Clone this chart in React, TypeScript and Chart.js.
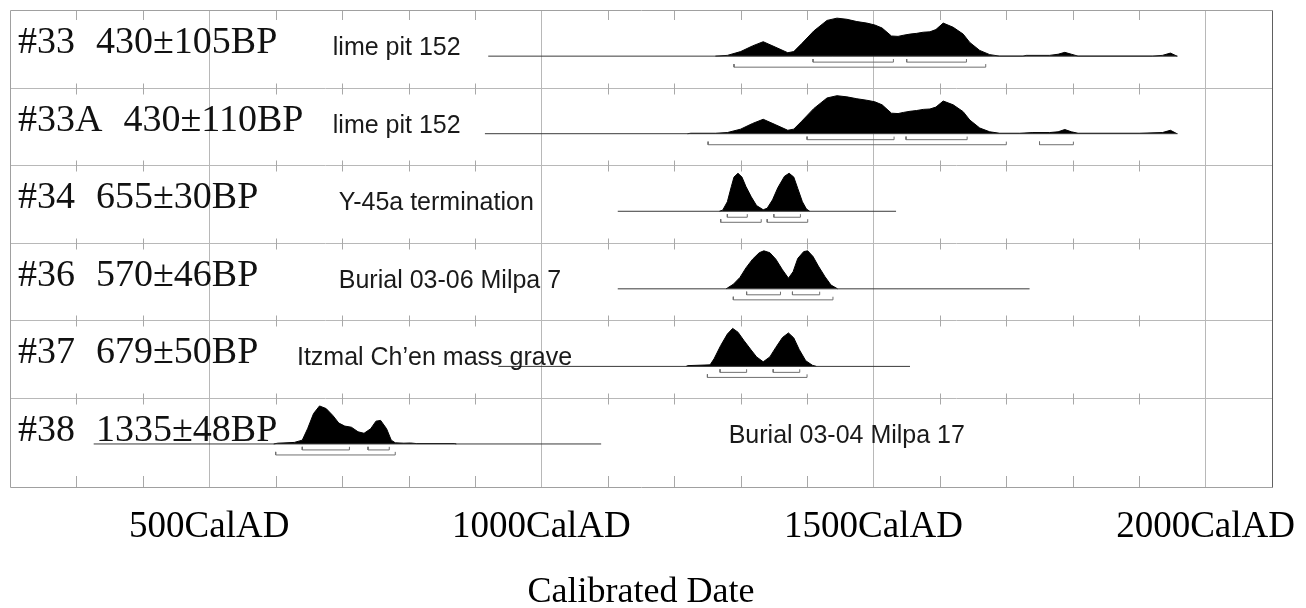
import React, { useEffect, useRef } from 'react';
import { Chart, registerables } from 'chart.js';

Chart.register(...registerables);

// ---------- data ----------
const sampleIds = ['#33', '#33A', '#34', '#36', '#37', '#38'];
const radiocarbonAges = ['430±105BP', '430±110BP', '655±30BP', '570±46BP', '679±50BP', '1335±48BP'];
const siteNames = [
  'lime pit 152',
  'lime pit 152',
  'Y-45a termination',
  'Burial 03-06 Milpa 7',
  'Itzmal Ch’en mass grave',
  'Burial 03-04 Milpa 17',
];

// extent of each row's calibration line (cal AD)
const rangeStart = [920, 915, 1115, 1115, 935, 326];
const rangeEnd = [1958, 1958, 1534, 1735, 1555, 1090];

// relative probability (year, density)
const dens33: [number, number][] = [
  [1262, 0], [1280, 0.02], [1300, 0.12], [1318, 0.27], [1334, 0.38], [1352, 0.24], [1371, 0.09],
  [1380, 0.12], [1392, 0.33], [1410, 0.66], [1430, 0.94], [1445, 1.0], [1460, 0.97], [1475, 0.91],
  [1490, 0.87], [1502, 0.82], [1513, 0.74], [1527, 0.53], [1537, 0.52], [1545, 0.55], [1555, 0.58],
  [1565, 0.6], [1575, 0.63], [1585, 0.64], [1594, 0.7], [1605, 0.87], [1620, 0.76], [1635, 0.58],
  [1645, 0.36], [1660, 0.15], [1675, 0.04], [1690, 0], [1725, 0], [1730, 0.02], [1765, 0.02],
  [1778, 0.05], [1788, 0.1], [1798, 0.05], [1808, 0], [1920, 0], [1935, 0.02], [1947, 0.08], [1957, 0],
];
const dens33A: [number, number][] = [
  [1220, 0], [1225, 0.012], [1262, 0.012], [1280, 0.03], [1300, 0.12], [1318, 0.27], [1334, 0.38],
  [1352, 0.24], [1371, 0.09], [1380, 0.12], [1392, 0.33], [1410, 0.66], [1430, 0.94], [1445, 1.0],
  [1460, 0.97], [1475, 0.92], [1490, 0.88], [1502, 0.84], [1513, 0.76], [1527, 0.54], [1537, 0.53],
  [1545, 0.56], [1555, 0.59], [1565, 0.61], [1575, 0.64], [1585, 0.65], [1594, 0.7], [1605, 0.86],
  [1620, 0.76], [1635, 0.58], [1645, 0.36], [1660, 0.15], [1675, 0.05], [1690, 0.012], [1720, 0.012],
  [1740, 0.03], [1765, 0.03], [1778, 0.05], [1788, 0.11], [1798, 0.05], [1808, 0.012], [1900, 0.012],
  [1935, 0.03], [1947, 0.09], [1957, 0],
];
const dens34: [number, number][] = [
  [1268, 0], [1273, 0.03], [1280, 0.25], [1286, 0.65], [1290, 0.9], [1296, 1.0], [1302, 0.9],
  [1308, 0.65], [1316, 0.38], [1324, 0.15], [1334, 0.04], [1340, 0.08], [1348, 0.3], [1356, 0.62],
  [1366, 0.92], [1373, 1.0], [1380, 0.9], [1386, 0.6], [1393, 0.25], [1399, 0.06], [1404, 0],
];
const dens36: [number, number][] = [
  [1278, 0], [1280, 0.02], [1289, 0.12], [1299, 0.3], [1308, 0.55], [1318, 0.78], [1328, 0.95],
  [1335, 1.0], [1344, 0.95], [1353, 0.78], [1363, 0.5], [1372, 0.28], [1379, 0.45], [1386, 0.8],
  [1395, 0.98], [1401, 1.0], [1409, 0.85], [1417, 0.6], [1427, 0.32], [1436, 0.1], [1446, 0],
];
const dens37: [number, number][] = [
  [1218, 0], [1220, 0.02], [1254, 0.04], [1260, 0.2], [1270, 0.55], [1280, 0.85], [1288, 1.0],
  [1296, 0.9], [1305, 0.68], [1315, 0.45], [1324, 0.25], [1334, 0.12], [1344, 0.25], [1353, 0.5],
  [1363, 0.76], [1372, 0.88], [1380, 0.75], [1388, 0.45], [1398, 0.15], [1408, 0.03], [1414, 0],
];
const dens38: [number, number][] = [
  [597, 0], [603, 0.02], [628, 0.04], [640, 0.1], [648, 0.4], [657, 0.8], [666, 1.0], [676, 0.93],
  [686, 0.75], [695, 0.55], [704, 0.47], [714, 0.44], [724, 0.32], [733, 0.28], [743, 0.4],
  [751, 0.6], [758, 0.62], [767, 0.4], [774, 0.1], [780, 0.03], [793, 0.02], [803, 0.025],
  [812, 0.01], [869, 0.01], [872, 0],
];
const densities = [dens33, dens33A, dens34, dens36, dens37, dens38];

// highest probability ranges: 68.2% and 95.4%
const sigma1Ranges: [number, number][][] = [
  [[1409, 1530], [1550, 1640]],
  [[1400, 1531], [1549, 1641]],
  [[1280, 1310], [1350, 1390]],
  [[1309, 1360], [1378, 1419]],
  [[1269, 1309], [1349, 1389]],
  [[640, 711], [739, 771]],
];
const sigma2Ranges: [number, number][][] = [
  [[1290, 1669]],
  [[1251, 1700], [1750, 1801]],
  [[1270, 1331], [1340, 1401]],
  [[1289, 1439]],
  [[1250, 1400]],
  [[600, 780]],
];

// axis
const X_MIN = 200;
const X_MAX = 2100;
const X_STEP = 100;
const X_MAJOR = 500;
const tickSuffix = 'CalAD';
const axisTitle = 'Calibrated Date';

// ---------- layout / style ----------
const ROWS = sampleIds.length;
const Y_MAX = 6.15;
const BASE_OFFSET = 0.595;
const PEAK_H = 0.49;
const SIG1_OFF = 0.077;
const SIG2_OFF = 0.142;
const BRACKET_TICK = 0.04;
const siteLabelYear = [686, 686, 695, 695, 632, 1282];
const SERIF = "'Liberation Serif', 'Times New Roman', serif";
const SANS = "'Liberation Sans', Arial, sans-serif";
const GRID = '#b8b8b8';

function bracketPoints(ranges: [number, number][], yv: number) {
  const pts: { x: number; y: number | null }[] = [];
  ranges.forEach(([a, b]) => {
    pts.push({ x: a, y: yv - BRACKET_TICK }, { x: a, y: yv }, { x: b, y: yv }, { x: b, y: yv - BRACKET_TICK }, { x: b, y: null });
  });
  return pts;
}

const framePlugin = {
  id: 'oxcalFrame',
  beforeDatasetsDraw(chart: any) {
    const { ctx, chartArea: a, scales } = chart;
    const x = scales.x;
    const y = scales.y;
    ctx.save();
    ctx.lineWidth = 1;
    ctx.strokeStyle = GRID;
    const line = (x1: number, y1: number, x2: number, y2: number) => {
      ctx.beginPath();
      ctx.moveTo(x1, y1);
      ctx.lineTo(x2, y2);
      ctx.stroke();
    };
    const divs: number[] = [];
    for (let i = 1; i < ROWS; i++) divs.push(Math.round(y.getPixelForValue(i)) + 0.5);
    divs.forEach((py) => line(a.left, py, a.right, py));
    ctx.strokeStyle = '#a8a8a8';
    for (let yr = X_MIN + X_STEP; yr < X_MAX; yr += X_STEP) {
      if (yr % X_MAJOR === 0) continue;
      const px = Math.round(x.getPixelForValue(yr)) + 0.5;
      line(px, a.top, px, a.top + 10);
      line(px, a.bottom - 11, px, a.bottom);
      divs.forEach((py) => line(px, py - 5, px, py + 6));
    }
    ctx.strokeStyle = '#a0a0a0';
    const l = Math.round(a.left) + 0.5;
    const r = Math.round(a.right) + 0.5;
    const t = Math.round(a.top) + 0.5;
    const b = Math.round(a.bottom) + 0.5;
    line(l, t, r, t);
    line(l, t, l, b);
    line(l, b, r, b);
    ctx.strokeStyle = '#606060';
    line(r, t, r, b);
    ctx.restore();
  },
  afterDraw(chart: any) {
    const { ctx, scales } = chart;
    const x = scales.x;
    const y = scales.y;
    ctx.save();
    ctx.textBaseline = 'alphabetic';
    ctx.textAlign = 'left';
    for (let i = 0; i < ROWS; i++) {
      const top = y.getPixelForValue(i);
      ctx.fillStyle = '#111';
      ctx.font = `38px ${SERIF}`;
      ctx.fillText(sampleIds[i], 18, top + 43);
      const w = ctx.measureText(sampleIds[i]).width;
      ctx.fillText(radiocarbonAges[i], 18 + w + 21, top + 43);
      ctx.font = `25px ${SANS}`;
      ctx.fillStyle = '#1a1a1a';
      ctx.fillText(siteNames[i], x.getPixelForValue(siteLabelYear[i]), top + 45);
    }
    ctx.restore();
  },
};

export default function App() {
  const ref = useRef<HTMLCanvasElement | null>(null);

  useEffect(() => {
    document.body.style.margin = '0';
    const canvas = ref.current;
    if (!canvas) return;

    const datasets: any[] = [];
    for (let i = 0; i < ROWS; i++) {
      const base = i + BASE_OFFSET;
      datasets.push({
        data: [{ x: rangeStart[i], y: base }, { x: rangeEnd[i], y: base }],
        borderColor: '#3a3a3a',
        borderWidth: 1,
        pointRadius: 0,
        fill: false,
      });
      datasets.push({
        data: densities[i].map(([yr, d]) => ({ x: yr, y: base - d * PEAK_H })),
        borderColor: '#000',
        backgroundColor: '#000',
        borderWidth: 1,
        pointRadius: 0,
        tension: 0,
        fill: { value: base },
      });
      datasets.push({
        data: bracketPoints(sigma1Ranges[i], base + SIG1_OFF),
        borderColor: '#707070',
        borderWidth: 1,
        pointRadius: 0,
        fill: false,
        spanGaps: false,
      });
      datasets.push({
        data: bracketPoints(sigma2Ranges[i], base + SIG2_OFF),
        borderColor: '#707070',
        borderWidth: 1,
        pointRadius: 0,
        fill: false,
        spanGaps: false,
      });
    }

    const chart = new Chart(canvas, {
      type: 'line',
      data: { datasets },
      options: {
        animation: false,
        responsive: false,
        maintainAspectRatio: false,
        events: [],
        layout: { padding: { left: 10, right: 34, top: 10, bottom: 0 } },
        plugins: { legend: { display: false }, tooltip: { enabled: false } },
        scales: {
          x: {
            type: 'linear',
            min: X_MIN,
            max: X_MAX,
            z: 1,
            afterBuildTicks: (scale: any) => {
              const t = [];
              for (let v = X_MIN; v <= X_MAX; v += X_STEP) t.push({ value: v });
              scale.ticks = t;
            },
            afterFit: (scale: any) => {
              scale.height = 121;
            },
            ticks: {
              autoSkip: false,
              maxRotation: 0,
              padding: 4,
              color: '#000',
              font: { family: SERIF, size: 37, lineHeight: 1 },
              callback: (v: any) => (Number(v) % X_MAJOR === 0 ? `${v}${tickSuffix}` : ''),
            },
            grid: {
              drawTicks: true,
              tickLength: 18,
              tickColor: 'rgba(0,0,0,0)',
              lineWidth: 1,
              color: (c: any) => {
                const v = c.tick ? c.tick.value : NaN;
                return v % X_MAJOR === 0 && v > X_MIN && v < X_MAX ? GRID : 'rgba(0,0,0,0)';
              },
            },
            border: { display: false },
            title: {
              display: true,
              text: axisTitle,
              color: '#000',
              font: { family: SERIF, size: 36, lineHeight: 0.85 },
              padding: { top: 0, bottom: 0 },
            },
          },
          y: {
            type: 'linear',
            min: 0,
            max: Y_MAX,
            reverse: true,
            display: false,
          },
        },
      },
      plugins: [framePlugin],
    });

    return () => chart.destroy();
  }, []);

  return (
    <div style={{ width: 1306, height: 608 }}>
      <canvas ref={ref} width={1306} height={608} style={{ display: 'block' }} />
    </div>
  );
}
